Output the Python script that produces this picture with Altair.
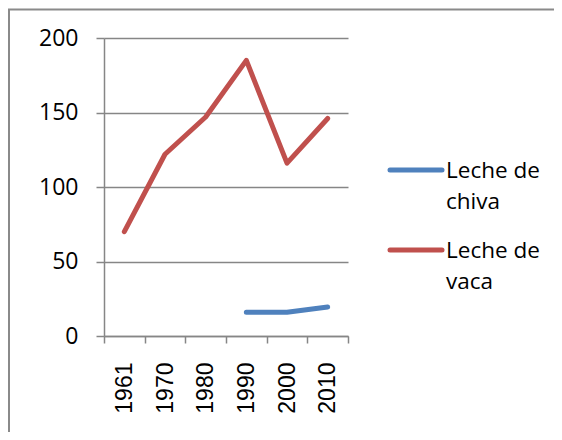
import altair as alt
import pandas as pd

years = ["1961", "1970", "1980", "1990", "2000", "2010"]
vaca = [70, 122, 147, 185, 116, 146]
chiva = [None, None, None, 16, 16, 19.5]
series_names = ["Leche de chiva", "Leche de vaca"]
series_colors = ["#4F81BD", "#C0504D"]
legend_lines = ["Leche de\nchiva", "Leche de\nvaca"]
y_ticks = [0, 50, 100, 150, 200]

rows = []
for y, v in zip(years, chiva):
    rows.append({"year": y, "value": v, "series": series_names[0]})
for y, v in zip(years, vaca):
    rows.append({"year": y, "value": v, "series": series_names[1]})
df = pd.DataFrame(rows)

color_scale = alt.Scale(domain=series_names, range=series_colors)
GRID = "#868686"

border = alt.Chart(pd.DataFrame({"a": [0]})).mark_rect(
    fill=None, stroke="#8a8a8a", strokeWidth=2
).encode(
    x=alt.value(-95), x2=alt.value(600), y=alt.value(-28.5), y2=alt.value(600)
)

lines = alt.Chart(df).mark_line(strokeWidth=5, strokeCap="round", strokeJoin="round").encode(
    x=alt.X("year:O", sort=years, bandPosition=0.5,
            scale=alt.Scale(type="band", paddingInner=0, paddingOuter=0),
            axis=alt.Axis(title=None, labelAngle=270, labelAlign="right", labelBaseline="middle",
                          tickBand="extent", tickSize=7, tickColor=GRID, domainColor=GRID,
                          domainWidth=1.5, tickWidth=1.5,
                          labelFont="Liberation Sans", labelFontSize=23, labelColor="#000000",
                          labelPadding=19, grid=False)),
    y=alt.Y("value:Q", scale=alt.Scale(domain=[0, 200], nice=False),
            axis=alt.Axis(title=None, values=y_ticks, tickSize=8, tickColor=GRID,
                          domainColor=GRID, domainWidth=1.5, tickWidth=1.5,
                          grid=True, gridColor=GRID, gridWidth=1.5,
                          labelFont="Open Sans", labelFontSize=23, labelColor="#000000",
                          labelPadding=18)),
    color=alt.Color("series:N", scale=color_scale, legend=None),
    detail="series:N",
)

layers = [border, lines]
legend_y = [132, 212]
for name, txt, ly in zip(series_names, legend_lines, legend_y):
    ldf = pd.DataFrame({"series": [name], "label": [txt]})
    sym = alt.Chart(ldf).mark_rule(strokeWidth=5, strokeCap="round").encode(
        x=alt.value(286), x2=alt.value(338), y=alt.value(ly),
        color=alt.Color("series:N", scale=color_scale, legend=None),
    )
    lab = alt.Chart(ldf).mark_text(
        align="left", baseline="alphabetic", font="Open Sans", fontSize=22.5,
        lineBreak="\n", lineHeight=31, color="#000000"
    ).encode(x=alt.value(342), y=alt.value(ly + 8), text="label:N")
    layers += [sym, lab]

chart = alt.layer(*layers).properties(
    width=244, height=298,
    autosize=alt.AutoSizeParams(type="none"),
    padding={"left": 96, "top": 30, "right": 206, "bottom": 96},
    background="white",
).configure_view(stroke=None)

chart.save("out.html", embed_options={"renderer": "svg", "actions": False})
